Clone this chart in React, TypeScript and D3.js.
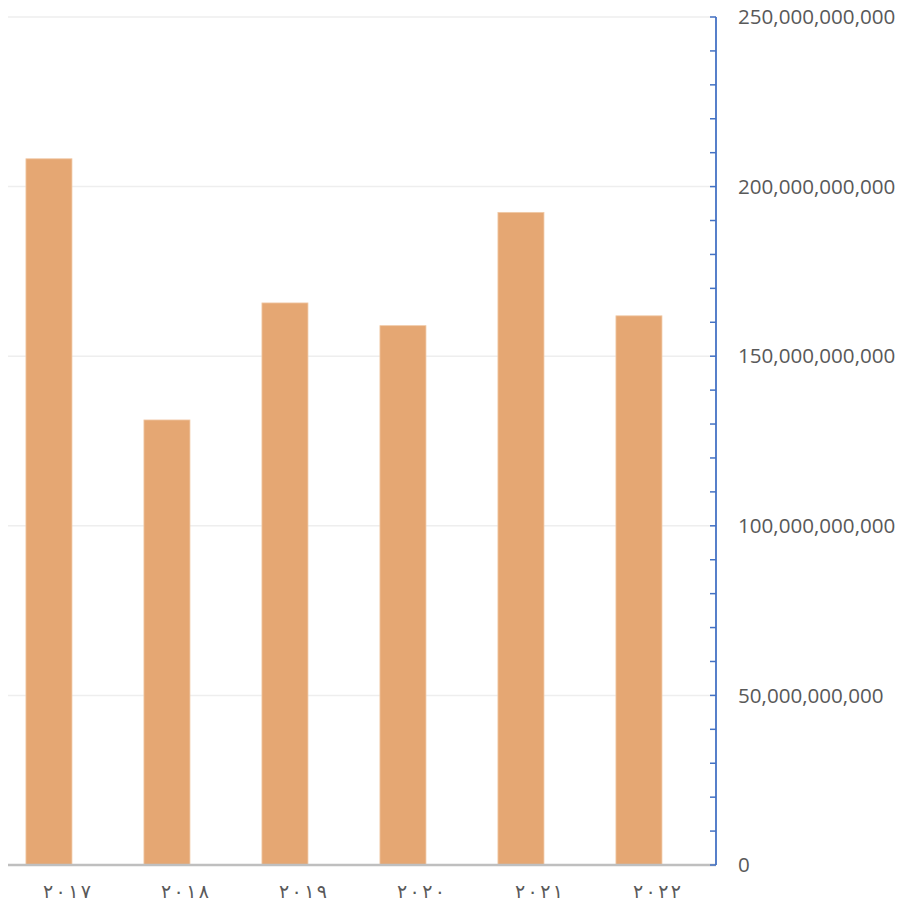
import React from "react";
import * as d3 from "d3";

const categories = ["٢٠١٧", "٢٠١٨", "٢٠١٩", "٢٠٢٠", "٢٠٢١", "٢٠٢٢"];
const values = [208.2e9, 131.2e9, 165.7e9, 159.0e9, 192.4e9, 161.9e9];
const majorTicks = [0, 50e9, 100e9, 150e9, 200e9, 250e9];
const minorTicks = d3.range(0, 250e9 + 1, 10e9);

const W = 912;
const H = 909;
const plotLeft = 8;
const plotRight = 716;
const plotTop = 17;
const plotBottom = 865;

export default function App() {
  const x = d3.scaleBand<string>().domain(categories).range([plotLeft, plotRight]).padding(0);
  const y = d3.scaleLinear().domain([0, 250e9]).range([plotBottom, plotTop]);
  const bw = x.bandwidth();
  const barW = bw * 0.39;
  const barOffset = bw * 0.153; // bars sit left of band centre
  const fmt = d3.format(",");
  return (
    <svg width={W} height={H} style={{ position: "absolute", left: 0, top: 0 }}>
      <rect width={W} height={H} fill="#fff" />
      {majorTicks.slice(1).map((t) => (
        <line key={"g" + t} x1={plotLeft} x2={plotRight} y1={y(t)} y2={y(t)} stroke="#eeeeee" strokeWidth={1.5} />
      ))}
      {values.map((v, i) => (
        <rect
          key={categories[i]}
          x={x(categories[i])! + bw / 2 - barOffset - barW / 2}
          y={y(v)}
          width={barW}
          height={plotBottom - y(v)}
          fill="#E5A773"
          stroke="#F0C9A6"
          strokeWidth={0.8}
        />
      ))}
      <line x1={plotLeft} x2={plotRight} y1={plotBottom} y2={plotBottom} stroke="#bfbfbf" strokeWidth={2.5} />
      <line x1={plotRight} x2={plotRight} y1={plotTop} y2={plotBottom} stroke="#4472C4" strokeWidth={1.8} />
      {minorTicks.map((t) => (
        <line key={"t" + t} x1={plotRight - 6} x2={plotRight} y1={y(t)} y2={y(t)} stroke="#4472C4" strokeWidth={1.5} />
      ))}
      {majorTicks.map((t) => (
        <text
          key={"l" + t}
          x={738}
          y={y(t)}
          dy="0.35em"
          fontFamily="'Open Sans', sans-serif"
          fontSize={20.6}
          fill="#595959"
        >
          {fmt(t)}
        </text>
      ))}
      {categories.map((c) => (
        <text
          key={"c" + c}
          x={x(c)! + bw / 2 - 24}
          y={898}
          fontFamily="'DejaVu Sans', sans-serif"
          fontSize={19}
          textLength={48}
          lengthAdjust="spacing"
          fill="#595959"
          direction="ltr"
        >
          {c}
        </text>
      ))}
    </svg>
  );
}
